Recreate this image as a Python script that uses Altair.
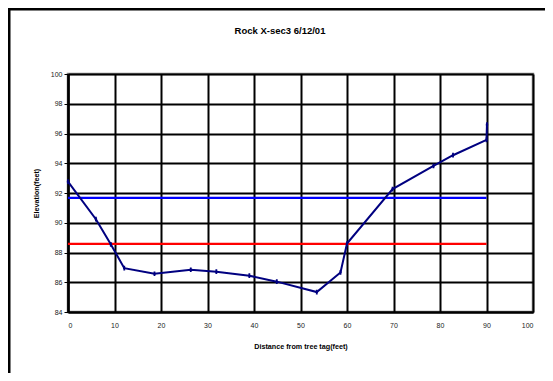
import altair as alt
import pandas as pd

# Survey points (distance from tree tag, elevation)
dist = [0, 6.0, 9.2, 12.1, 18.6, 26.4, 31.9, 39.0, 44.9, 53.5, 58.6, 60.0, 69.8, 78.6, 82.8, 90.0, 90.1]
elev = [92.77, 90.24, 88.55, 86.95, 86.57, 86.84, 86.71, 86.44, 86.04, 85.34, 86.66, 88.6, 92.26, 93.82, 94.54, 95.57, 96.6]

# Horizontal reference levels
level_x = [0, 90]
blue_level = 91.67
red_level = 88.58

x_ticks = list(range(0, 101, 10))
y_ticks = list(range(84, 101, 2))

TITLE = "Rock X-sec3 6/12/01"
FONT = "Liberation Sans"

profile = pd.DataFrame({"dist": dist, "elev": elev, "order": list(range(len(dist)))})
levels = pd.DataFrame({
    "dist": level_x * 2,
    "elev": [blue_level] * 2 + [red_level] * 2,
    "lvl": ["blue"] * 2 + ["red"] * 2,
})

W, H = 465, 238

x_scale = alt.Scale(domain=[0, 100], nice=False, zero=False)
y_scale = alt.Scale(domain=[84, 100], nice=False, zero=False)

x_axis = alt.Axis(values=x_ticks, title="Distance from tree tag(feet)", grid=True,
                  gridColor="black", gridWidth=2, gridOpacity=1,
                  domainColor="black", domainWidth=2, ticks=False, labelOverlap=False,
                  labelFont=FONT, labelFontSize=7, labelColor="#222222", labelPadding=9,
                  titleFont=FONT, titleFontSize=7.2, titleFontWeight="bold",
                  titleColor="black", titlePadding=14)
y_axis = alt.Axis(values=y_ticks, title="Elevation(feet)", grid=True,
                  gridColor="black", gridWidth=2, gridOpacity=1,
                  domainColor="black", domainWidth=2.5, ticks=True, tickSize=4,
                  tickColor="black", tickWidth=1, labelOverlap=False,
                  labelFont=FONT, labelFontSize=7, labelColor="#222222", labelPadding=2,
                  titleFont=FONT, titleFontSize=7.2, titleFontWeight="bold",
                  titleColor="black", titlePadding=10)

X = alt.X("dist:Q", scale=x_scale, axis=x_axis)
Y = alt.Y("elev:Q", scale=y_scale, axis=y_axis)

one = pd.DataFrame({"a": [0]})

frame = alt.Chart(one).mark_rect(
    fill=None, fillOpacity=0, stroke="black", strokeWidth=3
).encode(x=alt.value(-59), x2=alt.value(700), y=alt.value(-65), y2=alt.value(500))

title = alt.Chart(one).mark_text(
    text=TITLE, font=FONT, fontSize=9.5, fontWeight="bold", color="black",
    align="center", baseline="middle"
).encode(x=alt.value(212), y=alt.value(-43))

lvl_lines = alt.Chart(levels).mark_line(strokeWidth=2.2).encode(
    x=X, y=Y,
    detail="lvl:N",
    color=alt.Color("lvl:N", scale=alt.Scale(domain=["blue", "red"], range=["#0000FF", "#FF0000"]), legend=None),
)

line = alt.Chart(profile).mark_line(color="#000080", strokeWidth=2).encode(
    x=X, y=Y, order="order:Q",
)

pts = alt.Chart(profile).mark_point(
    shape="M0,-1L0,1M-0.5,0L0.5,0", filled=False, color="#000080", strokeWidth=1.8, size=22, opacity=1
).encode(x=X, y=Y)

chart = alt.layer(frame, title, lvl_lines, line, pts).properties(
    width=W, height=H,
    autosize=alt.AutoSizeParams(type="none"),
    padding={"left": 60, "top": 66, "right": 12, "bottom": 61},
    background="white",
).configure_view(stroke="#808080", strokeWidth=2.5)

chart.save("out.html", embed_options={"renderer": "svg", "actions": False})
